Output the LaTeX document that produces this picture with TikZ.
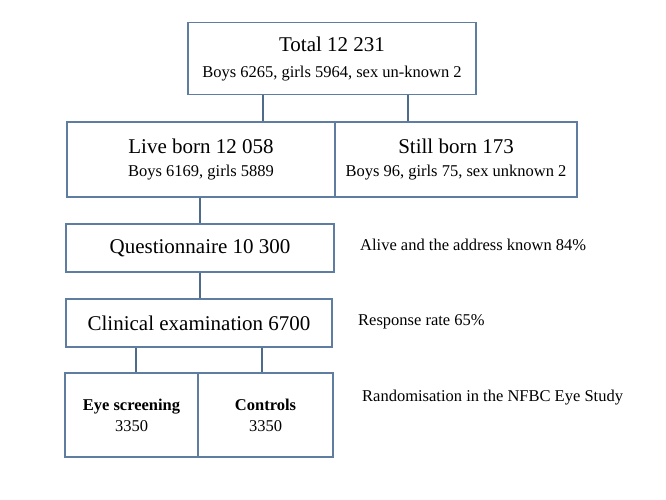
\documentclass[tikz,border=0pt]{standalone}
\usepackage{fontspec}
\setmainfont{Liberation Serif}
\usepackage{xcolor}
\usepackage{tikz}
\usetikzlibrary{positioning}

\definecolor{bordo}{HTML}{5E7DA0}
\definecolor{linea}{HTML}{4F6B8C}

\newcommand{\grande}{\fontsize{21}{25}\selectfont}
\newcommand{\piccolo}{\fontsize{16.5}{21}\selectfont}

\begin{document}
\begin{tikzpicture}[x=1pt, y=-1pt,
    box/.style={draw=bordo, line width=1.1pt, fill=white, align=center, inner sep=0pt},
    link/.style={draw=linea, line width=1.8pt},
    nota/.style={anchor=west, inner sep=0pt, font=\piccolo}]
  \useasboundingbox (0,0) rectangle (666,500);

  % Riquadri
  \node[box, minimum width=288pt, minimum height=72pt, font=\grande] (total) at (332,58.5)
    {Total 12 231\\[1pt]{\piccolo Boys 6265, girls 5964, sex un-known 2}};
  \node[box, minimum width=268pt, minimum height=75pt, font=\grande] (live) at (201,159.5)
    {Live born 12 058\\[-2pt]{\piccolo Boys 6169, girls 5889}};
  \node[box, minimum width=242pt, minimum height=75pt, font=\grande] (still) at (456,159.5)
    {Still born 173\\[-2pt]{\piccolo Boys 96, girls 75, sex unknown 2}};
  \node[box, minimum width=268pt, minimum height=48pt, font=\grande] (quest) at (200,248)
    {Questionnaire 10 300};
  \node[box, minimum width=266pt, minimum height=48pt, font=\grande] (clin) at (199,323)
    {Clinical examination 6700};
  \node[box, minimum width=133pt, minimum height=84pt, font=\piccolo] (eye) at (131.5,415)
    {\textbf{Eye screening}\\3350};
  \node[box, minimum width=135pt, minimum height=84pt, font=\piccolo] (ctrl) at (265.5,415)
    {\textbf{Controls}\\3350};

  % Collegamenti
  \coordinate (a1) at (263,0);
  \coordinate (a2) at (408,0);
  \coordinate (a3) at (136,0);
  \coordinate (a4) at (262,0);
  \draw[link] (a1 |- total.south) -- (a1 |- live.north);
  \draw[link] (a2 |- total.south) -- (a2 |- still.north);
  \draw[link] (live.south -| quest.north) -- (quest.north);
  \draw[link] (quest.south) -- (quest.south |- clin.north);
  \draw[link] (a3 |- clin.south) -- (a3 |- eye.north);
  \draw[link] (a4 |- clin.south) -- (a4 |- ctrl.north);

  % Note a destra
  \node[nota] (n1) at (360,245) {Alive and the address known 84\%};
  \node[nota] (n2) at (358,322) {Response rate 65\%};
  \node[nota] (n3) at (362,398) {Randomisation in the NFBC Eye Study};
\end{tikzpicture}
\end{document}
